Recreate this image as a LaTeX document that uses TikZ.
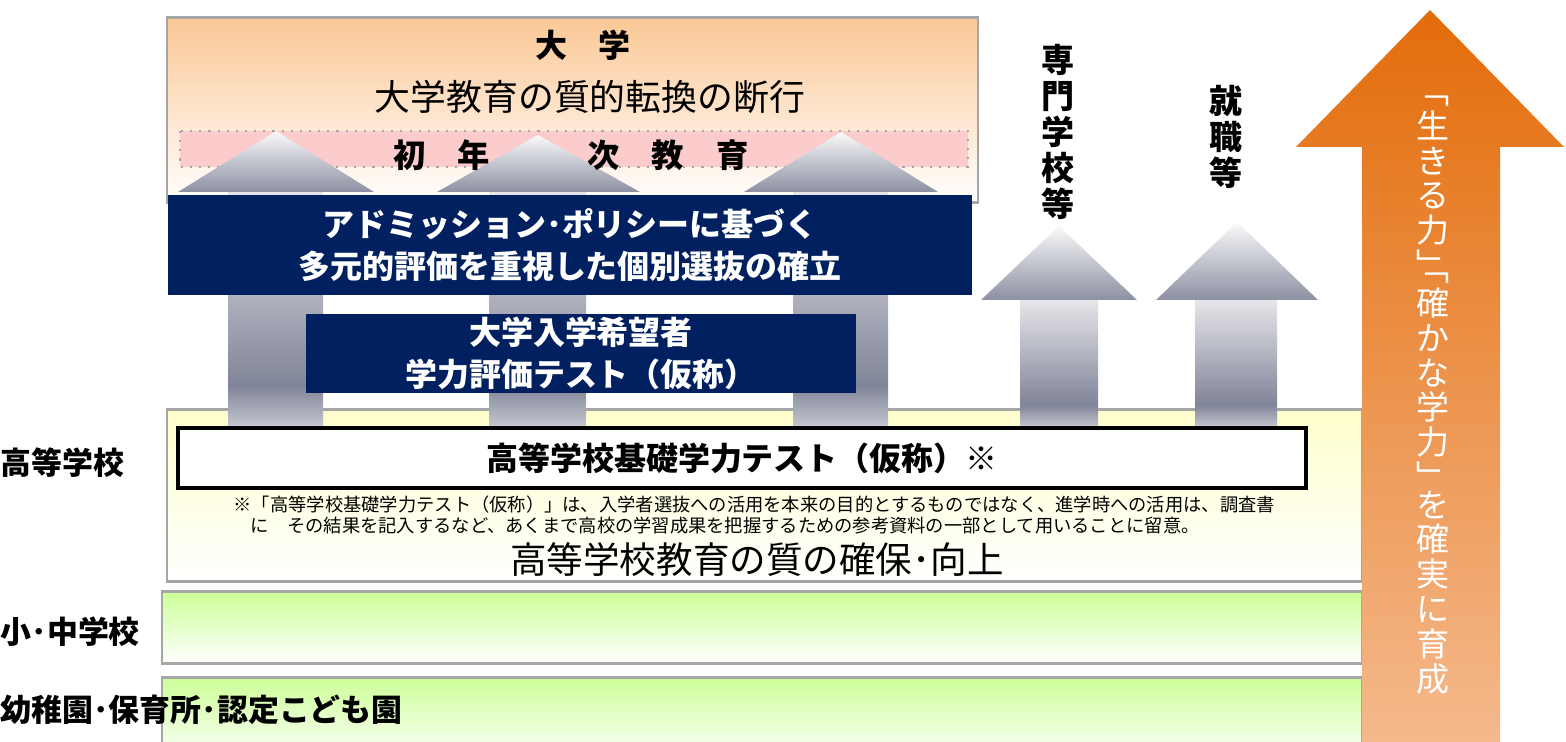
\documentclass[tikz,border=0pt]{standalone}
\usepackage{fontspec}
\setmainfont{Noto Sans CJK JP}
\definecolor{navy}{RGB}{0,32,96}
\definecolor{uniorange}{RGB}{251,200,150}
\definecolor{bandpink}{RGB}{252,204,204}
\definecolor{tiergray}{RGB}{166,166,166}
\definecolor{hsyellow}{RGB}{255,255,204}
\definecolor{kidgreen}{RGB}{204,255,153}
\definecolor{shaftdark}{RGB}{128,132,152}
\definecolor{shaftlight}{RGB}{200,202,210}
\definecolor{shaftpale}{RGB}{230,230,234}
\definecolor{headtip}{RGB}{250,250,250}
\definecolor{headdark}{RGB}{140,144,162}
\definecolor{orangetop}{RGB}{227,108,10}
\definecolor{orangemid}{RGB}{233,132,50}
\definecolor{orangelow}{RGB}{245,185,140}
\pgfdeclareverticalshading{shaftgray}{100bp}{color(0bp)=(shaftlight); color(25bp)=(shaftlight); color(34bp)=(shaftdark); color(75bp)=(shaftpale); color(100bp)=(shaftpale)}
\begin{document}
\begin{tikzpicture}[
  tier/.style={draw=tiergray, line width=0.85pt},
  upshaft/.style={shading=shaftgray},
  uphead/.style={top color=headtip, bottom color=headdark},
  bluebox/.style={fill=navy, text=white, align=center, inner sep=0pt, font=\bfseries\fontsize{9.1}{11.8}\selectfont},
  vlabel/.style={align=center, font=\bfseries\fontsize{9.4}{10.2}\selectfont},
  tiername/.style={anchor=west, inner sep=0pt, font=\bfseries\fontsize{8.8}{10}\selectfont}]
 \useasboundingbox (0,0) rectangle (15.66,7.42);
 % stages
 \draw[tier, top color=uniorange, bottom color=white] (1.67,7.24) rectangle (9.78,5.39);
 \draw[draw=gray!70, dotted, line width=0.6pt, fill=bandpink] (1.80,6.11) rectangle (9.68,5.75);
 \draw[tier, top color=hsyellow, bottom color=white] (1.67,3.32) rectangle (13.62,1.60);
 \draw[tier, top color=kidgreen, bottom color=white] (1.62,1.50) rectangle (13.62,0.78);
 \draw[tier, top color=kidgreen, bottom color=white] (1.62,0.64) rectangle (13.62,-0.20);
 % gray arrows
 \shade[upshaft] (2.28,3.14) rectangle (3.23,5.50);
 \shade[uphead] (1.78,5.50) -- (2.76,6.11) -- (3.74,5.50) -- cycle;
 \shade[upshaft] (4.89,3.14) rectangle (5.86,5.50);
 \shade[uphead] (4.37,5.50) -- (5.38,6.07) -- (6.40,5.50) -- cycle;
 \shade[upshaft] (7.93,3.14) rectangle (8.88,5.50);
 \shade[uphead] (7.44,5.50) -- (8.41,6.10) -- (9.38,5.50) -- cycle;
 \shade[upshaft] (10.20,3.14) rectangle (10.98,4.42);
 \shade[uphead] (9.81,4.42) -- (10.59,5.16) -- (11.37,4.42) -- cycle;
 \shade[upshaft] (11.95,3.14) rectangle (12.77,4.42);
 \shade[uphead] (11.56,4.42) -- (12.37,5.20) -- (13.18,4.42) -- cycle;
 % university
 \node[font=\bfseries\fontsize{9.1}{11}\selectfont] (univ) at (5.83,6.97) {大　学};
 \node[font=\fontsize{10.2}{12}\selectfont] (univgoal) at (5.90,6.45) {大学教育の質的転換の断行};
 \node[font=\bfseries\fontsize{9.2}{10}\selectfont] (firstyear) at (5.71,5.87) {初　年　　　次　教　育};
 \node[bluebox, minimum width=8.04cm, minimum height=1.00cm] (policy) at (5.70,4.97)
   {アドミッション･ポリシーに基づく\\多元的評価を重視した個別選抜の確立};
 \node[bluebox, minimum width=5.50cm, minimum height=0.79cm] (univtest) at (5.81,3.885)
   {大学入学希望者\\学力評価テスト（仮称）};
 % high school
 \node[draw=black, line width=1.2pt, fill=white, minimum width=11.28cm, minimum height=0.60cm,
   font=\bfseries\fontsize{9.1}{11}\selectfont] (hstest) at (7.42,2.84) {高等学校基礎学力テスト（仮称）※};
 \node[anchor=west, inner sep=0pt, font=\fontsize{5.2}{6}\selectfont] (note1) at (2.33,2.37)
   {※「高等学校基礎学力テスト（仮称）」は、入学者選抜への活用を本来の目的とするものではなく、進学時への活用は、調査書};
 \node[anchor=west, inner sep=0pt, font=\fontsize{5.2}{6}\selectfont] (note2) at (2.50,2.16)
   {に　その結果を記入するなど、あくまで高校の学習成果を把握するための参考資料の一部として用いることに留意。};
 \node[font=\fontsize{10.4}{12}\selectfont] (hsgoal) at (7.57,1.82) {高等学校教育の質の確保･向上};
 % other paths
 \node[vlabel] (college) at (10.58,6.10) {専\\門\\学\\校\\等};
 \node[vlabel] (job) at (12.26,6.05) {就\\職\\等};
 % school levels
 \node[tiername] (hs) at (0,2.79) {高等学校};
 \node[tiername] (mid) at (0,1.10) {小･中学校};
 \node[tiername] (kid) at (0,0.32) {幼稚園･保育所･認定こども園};
 % orange arrow
 \shade[top color=orangetop, middle color=orangemid, bottom color=orangelow]
   (13.62,0) -- (13.62,5.95) -- (12.96,5.95) -- (14.30,7.32) -- (15.64,5.95) -- (15.00,5.95) -- (15.00,0) -- cycle;
 \node[text=white, align=center, font=\fontsize{9.4}{9.9}\selectfont] (motto) at (14.33,3.47)
   {﹁\\生\\き\\る\\力\\﹂\\[-9pt]﹁\\確\\か\\な\\学\\力\\﹂\\[-2pt]を\\確\\実\\に\\育\\成};
\end{tikzpicture}
\end{document}
